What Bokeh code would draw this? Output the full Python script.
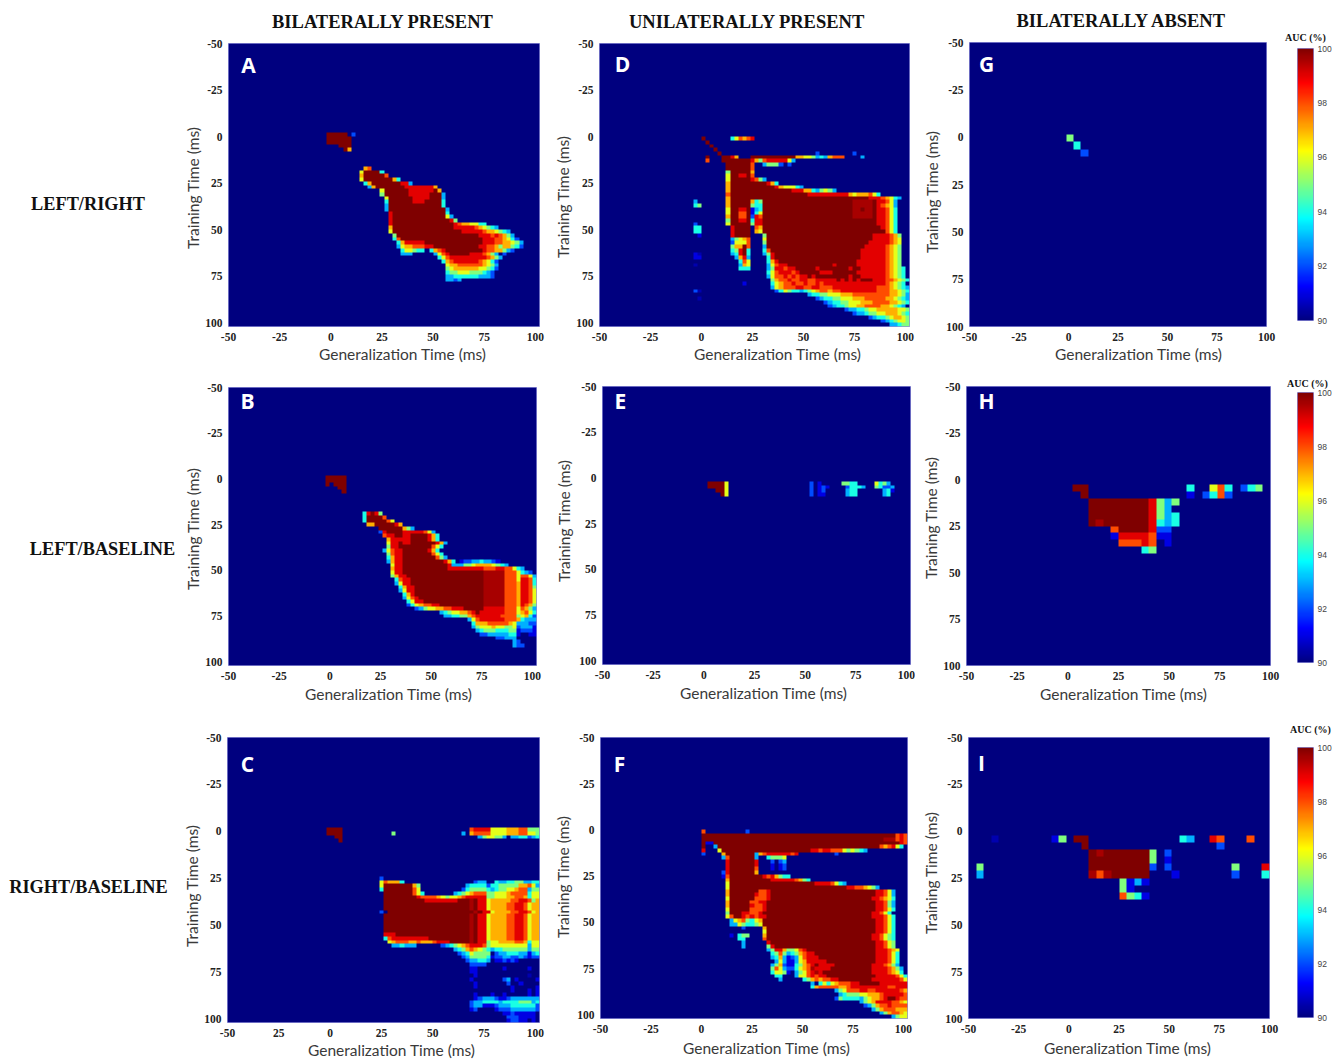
import re
import numpy as np
from bokeh.core.properties import value
from bokeh.embed import file_html
from bokeh.layouts import column, row
from bokeh.models import FixedTicker, Label, LinearColorMapper, Range1d, Title
from bokeh.plotting import figure
from bokeh.resources import INLINE

# AUC codes used in the rows below: each character is one cell of the matrix
AUC_CODES = {"n": 90.5, "1": 91, "2": 92, "3": 93, "4": 94, "5": 95, "6": 96, "7": 97,
             "8": 98, "9": 99, "D": 99.6, "X": 100}
TICKS = [-50, -25, 0, 25, 50, 75, 100]
X_LABEL = "Generalization Time (ms)"
Y_LABEL = "Training Time (ms)"
COL_HEADS = ["BILATERALLY PRESENT", "UNILATERALLY PRESENT", "BILATERALLY ABSENT"]
ROW_HEADS = ["LEFT/RIGHT", "LEFT/BASELINE", "RIGHT/BASELINE"]

# rows: (training time, first generalization time, cell codes); c{n} repeats c
A = [(-2,-2,"X{5}.2"),(0,-2,"X{6}"),(2,-2,"X{6}"),(4,4,"XXX"),(6,6,"X7"),
(16,16,"78"),(18,14,"6X{4}4"),(20,14,"7X{5}8"),(22,14,"6X{7}74"),(24,16,"47X{7}993"),
(26,18,"37X{7}9{7}7"),(28,24,"6X{6}9{6}X7"),(30,24,"5X{6}9{5}XXX3"),(32,26,"6X{6}9{4}X{3}3"),
(34,26,"4X{6}999X{4}4"),(36,26,"3X{13}4"),(38,26,"3X{14}3"),(40,28,"9X{13}4"),(42,28,"9X{13}63"),
(44,28,"9X{14}95"),(46,28,"9X{15}98776644"),(48,28,"7X{15}9{5}876543"),(50,28,"6X{17}9{5}8776543"),
(52,30,"5X{20}9{3}898753"),(54,30,"48X{20}999887642"),(56,32,"479{5}X{14}9998877653"),
(58,32,"367788899X{11}99887577542"),(60,34,"466544"),(60,48,"4789X{9}98877532"),
(62,34,"333"),(62,50,"3689X{5}9{3}8753.2"),(64,52,"4689{9}8753"),(66,54,"4789{6}87642"),
(68,56,"6778888887653"),(70,56,"5677777766542"),(72,56,"455666555432"),(74,56,"334444443332"),(76,56,"3323")]

B = [(-2,-2,"X{5}"),(0,-2,"X{5}"),(2,-2,"X.XXX"),(4,4,"XX"),(6,6,"X"),
(18,16,"49X95"),(20,16,"4X{4}8"),(22,16,"4X{5}86"),(24,18,"77X{5}97"),(26,24,"X{6}753"),
(28,24,"29X{4}9{5}863"),(30,26,"899XX99X{4}974"),(32,28,"799999X{4}974"),(34,28,"699X99X{6}973"),
(36,28,"599X{8}864"),(38,26,"36899X{6}974"),(40,28,"5899X{7}864"),(42,28,"4799X{8}853"),
(44,28,"3799X{10}974"),(44,64,"1223343321"),(46,30,"699X{11}975"),(46,60,"33355677776543"),
(48,30,"799X{11}9{9}8{3}9988643"),(50,30,"699X{20}D{5}8{3}6432"),(52,30,"5799X{19}D{5}8{3}68863"),
(54,32,"4899X{18}D{5}8{3}699842"),(56,32,"3699X{18}D{5}8{3}799842"),(58,34,"4799X{17}D{5}8{3}799853"),
(60,34,"3699X{17}D{5}8{3}799864"),(62,36,"479X{17}D{5}8{3}799864"),(64,36,"3689X{16}D{5}8{3}799864"),
(66,38,"4699X{15}D{5}8{3}799864"),(68,38,"24678899X{11}D{5}8{3}798753"),(70,42,"235667788999X{5}9{5}8{3}687532"),
(72,54,"345667789X99{5}8{3}678643"),(74,56,"334455789{6}8888567421"),(76,68,"36899{5}8887433321"),
(78,70,"477788888763332 21"),(80,70,"356667665562 33 31"),(82,72,"34555444551222 11"),
(84,74,"22333334 41"),(84,98,"11"),(86,82,"22333"),(88,90,"32"),(90,90,"322")]

C_BAND = "DX996777788998677 6"
C = [(-2,-2,"XXXX"),(0,-2,"XXXX"),(2,2,"XX"),(4,4,"X"),(0,30,"5"),(0,64,"3"),
(-2,68,"899996666777885555"),(0,68,"788886666777886655"),(2,72,"3566553.33442344"),
(24,24,"2"),(26,24,"687774"),(26,70,"233"),(26,80,"433445533444"),
(28,24,"6X{7}75"),(28,66,"344442"),(28,78,"44555557786355"),
(30,24,"4X{7}86"),(30,64,"24555543455667883555"),
(32,26,"X{7}864"),(32,60,"3456788855666788884665"),
(34,26,"X{8}988887656678 9{5}55666778874665"),
(36,26,"X{10}9{8}X{3}DX996777778899857 76"),
(38,26,"X{21}"+C_BAND),(40,26,"X{21}"+C_BAND),(42,24,"2.X{21}"+C_BAND),(44,26,"X{21}"+C_BAND),
(46,26,"X{21}"+C_BAND),(48,26,"X{21}"+C_BAND),(50,26,"X{21}"+C_BAND),(52,26,"X{21}"+C_BAND),
(54,26,"999X{18}"+C_BAND),(56,26,"489{9}X{10}"+C_BAND),
(58,28,"678887787778999X{5}DX99566777788746 65"),
(60,30,"334333"),(60,54,"23456789998566666666 6 3 665"),
(62,60,"3457876543445555553555"),
(64,62,"23465555.2334443 3 134"),
(66,64,"23555541223322321222"),
(68,66,"233443.11212 1"),(70,68,"2222"),
(72,68,"11"),(72,84,"1"),(72,96,"1"),(74,68,"11"),(76,70,"1"),(76,96,"n"),(78,68,"1"),(78,84,"23"),
(78,90,"1"),(78,100,"1"),(80,70,"1"),(80,86,"2"),(80,92,"1"),(82,70,"1"),(82,88,"1"),(82,100,"1"),
(84,88,"1"),(84,96,"1"),(84,100,"12"),(86,70,"1"),(86,78,"1"),(86,84,"1"),(86,96,"1"),(86,100,"1"),
(88,70,"123332112333333323"),(90,68,"233444434444555343"),(92,68,"233111233344444423"),
(94,68,"12....122233333323"),(96,84,"11211111.1"),(98,86,"2221111"),(100,86,"12211.1"),(102,88,"21")]

D = [(0,0,"X"),(0,14,"468789"),(2,2,"X"),(4,4,"X"),(6,6,"X"),(8,8,"X"),(8,56,"2"),(8,74,"2"),
(10,2,"X"),(10,10,"XX97"),(10,24,"X{11}776653437888"),(10,78,"3"),
(12,2,"8"),(12,10,"X{7}"),(12,24,"97589999963"),(14,12,"X{6}8"),(14,30,"35552.2"),
(16,12,"X{6}8"),(18,12,"5X{5}7"),(20,12,"6XX99X8"),(22,12,"6X{5}9853"),(24,12,"7X{9}974"),
(26,12,"7X{11}9766643"),(28,12,"7X{15}9{3}77435653"),(30,12,"8X{19}9{10}76777864"),
(32,12,"7X{34}9{3}87643"),(34,12,"7X{5}745X{22}D{5}X99863"),(36,12,"7X{5}544X{22}D{5}X98763"),
(38,12,"6XX99X134X{22}DDXDDX99864"),(40,12,"6XX88X146X{22}D{5}X99864"),(42,12,"7XX88X298X{22}D{5}X99864"),
(44,12,"5XX99X499X{28}99864"),(46,12,"6X{5}599X{28}99864"),(48,14,"9X{4}.87X{29}9864"),
(50,14,"9X{4}.76X{30}864"),(52,14,"9X{4}"),(52,30,"5X{26}9{4}875"),(54,14,"35678"),(54,30,"6X{26}9{4}876"),
(56,14,"26668"),(56,30,"5X{25}9{5}876"),(58,14,"577X8"),(58,30,"3X{24}9{5}8765"),
(60,14,"459X4"),(60,30,"48X{22}9{6}8765"),(62,14,"349X4"),(62,30,"359X{21}9{6}8765"),
(64,16,"3793"),(64,32,"49X{21}9{6}8765"),(66,18,"486"),(66,32,"479X{19}9{7}8765"),
(68,18,"376"),(68,32,"36899X{11}9X{5}9{7}8765"),(70,18,"444"),(70,32,"3599899X{5}9X{7}9XX9{6}87654"),
(72,32,"46899989X{5}999X{6}9{7}87654"),(74,32,"3688989899X9X{8}9XX9{6}87654"),
(76,34,"5788988998899999X9X9X9X{3}999887654"),(78,34,"46788988988989999{12}87654"),
(80,34,"3678889988998889"+"9{10}"+"888"+"76543"),(82,36,"24654434567887889"+"9{8}"+"888"+"776542"),
(84,52,"34455666777888888888776532"),(86,56,"234455666777888887765432"),(88,60,"2344556667778888776543"),
(90,62,"2344566778888776543"),(92,70,"233445667777766543"),(94,74,"2334556677765432"),
(96,82,"2344567765433"),(98,88,"2345665433"),(100,92,"334553"),(102,96,"3444"),
(34,-4,"3"),(36,-4,"45"),(46,-4,"2"),(48,-4,"44"),(50,-4,"44"),(52,-2,"1"),(62,-4,"1n"),(64,-4,"11"),(68,-4,"n"),
(78,20,"1"),(82,-4,"2n"),(86,-2,"n")]

E = [(2,2,"XXXX6"),(4,2,"XXXX6"),(6,6,"XX6"),(8,8,"X6"),
(2,52,"2"),(2,56,"1"),(4,52,"2"),(4,56,"121"),(6,52,"2"),(6,56,"12"),(8,52,"2"),(8,56,"11"),
(2,68,"5544"),(4,70,"24443"),(6,70,"344"),(8,70,"344"),
(2,84,"6453"),(4,84,"54223"),(6,88,"34"),(6,92,"1"),(8,88,"34")]

F = [(0,0,"8"),(0,22,"2"),(2,0,"X{48}898"),(4,0,"X{45}DDD898"),(6,0,"X11X{46}984"),(8,0,"X..3X{40}878964"),
(10,0,"9"),(10,8,"6X{22}99899888656543"),(12,0,"2"),(12,10,"7X{8}"),(12,26,"37899999989"),(12,66,"2"),
(14,10,"38X{6}3"),(14,32,"45556"),(16,12,"9X{6}9"),(16,34,"2"),(16,38,"23"),(18,12,"9X{6}9"),(18,34,"1"),(18,38,"12"),
(20,12,"9X{6}8"),(20,34,"1"),(20,38,"12"),(22,10,"29X{6}7"),(24,10,"18X{8}9897544"),(26,12,"7X{10}9{6}8754"),
(28,12,"6X{21}9{4}8643"),(30,12,"6X{29}99887653"),(32,12,"7X{7}889X{26}99863"),(34,12,"7X{6}9889X{26}99863"),
(36,12,"6X{6}8889X{25}998764"),(38,12,"7X{5}8899X{27}99853"),(40,12,"7X{5}9889X{27}99853"),(42,12,"6X{5}8889X{27}99864"),
(44,12,"5XXX99889X{27}99864"),(46,12,"68XX989899X{26}9{3}864"),(48,14,"36785467X{28}99864"),(50,14,"33654456X{28}99864"),
(52,20,"2"),(52,30,"7X{27}99864"),(54,30,"6X{27}99864"),(56,14,"1.455"),(56,30,"7X{26}998654"),(58,18,"44"),(58,30,"8X{26}998654"),
(60,20,"3"),(60,32,"9X{26}99865"),(62,20,"3"),(62,32,"59X{25}99865"),(64,32,"3599755689X{17}999876"),
(66,34,"45853457899X{15}999864"),(68,34,"347312368999X{14}999864"),(70,36,"3631136799999X{12}999864"),
(72,34,"35721145789X9999X{9}9998753"),(74,34,"5863224678D9999X{10}9{4}8753"),(76,34,"46651.35689D9X{12}9{4}8764"),
(78,36,"44"),(78,46,"36689899X{12}9{5}864"),(80,38,"3"),(80,50,"457878899X{8}9{7}864"),
(82,54,"3.4646788899X{5}9{10}8753"),(84,54,"47888887789999999998899 98753"),
(86,66,"35688899889999998764"),(88,68,"345556677789999988653"),(90,66,"25444435677 89XX9887653"),
(92,78,"3567999988765"),(94,80,"2357889888876"),(96,84,"3578887776"),(98,88,"35788766"),(100,94,"356665"),(102,96,"3455")]

G = [(-1.25,-1.25,"5"),(2.5,2.5,"4"),(6.25,6.25,"2")]

H = [(2.5,2.5,"XX"),(2.5,58.75,"4"),(2.5,70,"684"),(2.5,85,"245"),(6.25,6.25,"X"),(6.25,58.75,"1"),(6.25,66.25,"2482"),
(10,10,"X{8}9535"),(13.75,10,"X{8}953"),(17.5,10,"X{8}9534"),(21.25,10,"XDX{6}9434"),(25,21.25,"8X{4}922"),
(28.75,21.25,"1999981 1"),(32.5,25,"88898.1"),(36.25,36.25,"45")]

I = [(2.5,-38.75,"n"),(2.5,-8.75,"15"),(2.5,2.5,"XX"),(2.5,55,"43"),(2.5,70,"98"),(2.5,88.75,"8"),(6.25,6.25,"X"),(6.25,73.75,"2"),
(10,10,"XDX{6}5.2"),(13.75,10,"X{8}5.1"),(17.5,-46.25,"5"),(17.5,10,"X{8}2.2"),(17.5,81.25,"5"),(17.5,96.25,"9"),
(21.25,-46.25,"3"),(21.25,10,"D8DX{5}"),(21.25,51.25,"1"),(21.25,81.25,"2"),(21.25,96.25,"4"),
(25,25,"5131"),(28.75,25,"51"),(32.5,25,"8541")]

PANELS = {"A": A, "B": B, "C": C, "D": D, "E": E, "F": F, "G": G, "H": H, "I": I}

# colour scale of the AUC maps
AUC_LOW, AUC_HIGH = 90, 100
CBAR_TICKS = [90, 92, 94, 96, 98, 100]


def jet(u):
    r = min(4 * u - 1.5, -4 * u + 4.5)
    g = min(4 * u - 0.5, -4 * u + 3.5)
    b = min(4 * u + 0.5, -4 * u + 2.5)
    c = [int(255 * max(0, min(1, v))) for v in (r, g, b)]
    return "#%02x%02x%02x" % tuple(c)


PALETTE = [jet(i / 255) for i in range(256)]
MAPPER = LinearColorMapper(palette=PALETTE, low=AUC_LOW, high=AUC_HIGH)


def matrix(rows, cell, n):
    z = np.full((n, n), float(AUC_LOW))
    for t, g, s in rows:
        s = re.sub(r"(.)\{(\d+)\}", lambda m: m[1] * int(m[2]), s).replace(" ", "")
        r = int(round((t + 50) / cell))
        c0 = int(round((g + 50) / cell))
        for k, ch in enumerate(s):
            if ch != "." and 0 <= r < n and 0 <= c0 + k < n:
                z[r, c0 + k] = AUC_CODES[ch]
    return z


# page layout: (left, right, top, bottom) of each frame, in page pixels
FRAMES = {"A": (228, 539, 43, 326), "D": (599, 909, 43, 326), "G": (969, 1266, 42, 326),
          "B": (228, 536, 387, 665), "E": (602, 910, 386, 664), "H": (966, 1270, 386, 665),
          "C": (227, 539, 737, 1022), "F": (600, 907, 737, 1018), "I": (968, 1269, 737, 1018)}
CBARS = [(1297, 1313, 48, 320), (1297, 1313, 391, 662), (1297, 1313, 746, 1017)]
COLS = [(176, 546), (546, 915), (915, 1283), (1283, 1340)]
ROWS = [(0, 372), (372, 708), (708, 1061)]
LETTERS = {"A": (248, 64), "B": (247, 400), "C": (247, 763), "D": (622, 63), "E": (620, 400), "F": (619, 763),
           "G": (986, 63), "H": (986, 400), "I": (981, 762)}
XLAB = {"A": (402, 353), "B": (388, 695), "C": (391, 1050), "D": (777, 353), "E": (763, 694), "F": (766, 1050),
        "G": (1138, 353), "H": (1123, 695), "I": (1127, 1050)}
YLAB = {"A": (193, 188), "B": (193, 529), "C": (192, 886), "D": (562, 197), "E": (562, 521), "F": (562, 877),
        "G": (930, 192), "H": (931, 518), "I": (930, 873)}
COARSE = ("G", "H", "I")
HEAD_POS = [(382, 19), (746, 20), (1120, 20)]
HEAD_WIDTH = [221, 235, 208]
HEAD_STANDOFF = 20
ROW_POS = [(87.5, 203), (102, 548), (88, 886)]
AUC_POS = [(1305, 37), (1307, 383), (1310, 727)]
AUC_STANDOFF = [11, 7, 26]
X_WIDTH, Y_WIDTH, AUC_WIDTH = 167, 121, 41

SERIF = "Liberation Serif"
GEO = "Lato"


def shell(frame, col_i, row_i, **kw):
    L, R, T, B = frame
    c0, c1 = COLS[col_i]
    r0, r1 = ROWS[row_i]
    return figure(width=c1 - c0, height=r1 - r0, output_backend="svg", toolbar_location=None,
                  min_border_left=L - c0, min_border_right=c1 - R, min_border_top=T - r0, min_border_bottom=r1 - B,
                  outline_line_color="#8f8fd8", outline_line_width=1, **kw)


def panel(key, col_i, row_i):
    L, R, T, B = FRAMES[key]
    cell = 3.75 if key in COARSE else 2
    n = 40 if key in COARSE else 76
    end = -50 + n * cell
    p = shell(FRAMES[key], col_i, row_i, x_range=Range1d(-50, end), y_range=Range1d(end, -50),
              background_fill_color="#000080")
    p.grid.visible = False
    z = matrix(PANELS[key], cell, n)
    p.image(image=[z], x=-50, y=-50, dw=end + 50, dh=end + 50, color_mapper=MAPPER)
    for ax in (p.xaxis[0], p.yaxis[0]):
        ax.ticker = FixedTicker(ticks=TICKS)
        ax.axis_line_color = None
        ax.major_tick_line_color = None
        ax.minor_tick_line_color = None
        ax.major_tick_in = 0
        ax.major_tick_out = 0
        ax.major_label_text_font = SERIF
        ax.major_label_text_font_style = "bold"
        ax.major_label_text_font_size = "11.5px"
        ax.major_label_text_color = "#222222"
        ax.major_label_overrides = {v: str(v) for v in TICKS}
        ax.major_label_standoff = 6
    if key == "C":
        p.xaxis[0].major_label_overrides = {**{v: str(v) for v in TICKS}, -25: "25"}
    lx, ly = XLAB[key]
    p.add_layout(Title(text=X_LABEL, align="left", offset=lx - X_WIDTH / 2 - L, standoff=ly - B - 29,
                       text_font=GEO, text_font_size="15.5px", text_font_style="normal", text_color="#3a3a3a"), "below")
    lx, ly = YLAB[key]
    p.add_layout(Title(text=Y_LABEL, align="left", offset=B - ly - Y_WIDTH / 2, standoff=L - lx - 33,
                       text_font=GEO, text_font_size="15.5px", text_font_style="normal", text_color="#3a3a3a"), "left")
    lx, ly = LETTERS[key]
    p.add_layout(Label(x=lx - L, y=B - ly, x_units="screen", y_units="screen", text=key, text_align="center",
                       text_baseline="middle", text_font="Open Sans", text_font_style="bold",
                       text_font_size="21px", text_color="white"))
    if row_i == 0:
        hx, hy = HEAD_POS[col_i]
        p.add_layout(Title(text=COL_HEADS[col_i], align="left", offset=hx - HEAD_WIDTH[col_i] / 2 - L,
                           vertical_align="top", standoff=HEAD_STANDOFF,
                           text_font=SERIF, text_font_style="bold", text_font_size="18.5px", text_color="#111111"),
                     "above")
    return p


def colorbar(i):
    L, R, T, B = CBARS[i]
    p = shell(CBARS[i], 3, i, x_range=Range1d(0, 1), y_range=Range1d(AUC_LOW, AUC_HIGH), y_axis_location="right")
    p.grid.visible = False
    p.xaxis.visible = False
    grad = np.linspace(AUC_LOW, AUC_HIGH, 256).reshape(256, 1)
    p.image(image=[grad], x=0, y=AUC_LOW, dw=1, dh=AUC_HIGH - AUC_LOW, color_mapper=MAPPER)
    ax = p.yaxis[0]
    ax.ticker = FixedTicker(ticks=CBAR_TICKS)
    ax.axis_line_color = None
    ax.major_tick_line_color = None
    ax.minor_tick_line_color = None
    ax.major_tick_in = 0
    ax.major_tick_out = 0
    ax.major_label_standoff = 4
    ax.major_label_text_font = "Liberation Sans"
    ax.major_label_text_font_size = "8.5px"
    ax.major_label_text_color = "#444444"
    hx, hy = AUC_POS[i]
    p.add_layout(Title(text="AUC (%)", align="left", offset=hx - AUC_WIDTH / 2 - L, standoff=AUC_STANDOFF[i],
                       text_font=SERIF, text_font_style="bold", text_font_size="10px", text_color="#111111"), "above")
    return p


def row_head(i):
    r0, r1 = ROWS[i]
    p = figure(width=COLS[0][0], height=r1 - r0, x_range=Range1d(0, COLS[0][0]), y_range=Range1d(r1, r0),
               output_backend="svg", toolbar_location=None, min_border=0, outline_line_color=None)
    p.axis.visible = False
    p.grid.visible = False
    hx, hy = ROW_POS[i]
    p.text(x=[hx], y=[hy], text=[ROW_HEADS[i]], text_align="center", text_baseline="middle",
           text_font=value(SERIF), text_font_style="bold", text_font_size="18.3px", text_color="#111111")
    return p


grid = [["A", "D", "G"], ["B", "E", "H"], ["C", "F", "I"]]
rows = []
for ri, keys in enumerate(grid):
    figs = [row_head(ri)] + [panel(k, ci, ri) for ci, k in enumerate(keys)]
    figs.append(colorbar(ri))
    rows.append(row(*[column(f, spacing=0) for f in figs], spacing=0))
page = column(*rows, spacing=0)

open("out.html", "w").write(file_html(page, INLINE))
